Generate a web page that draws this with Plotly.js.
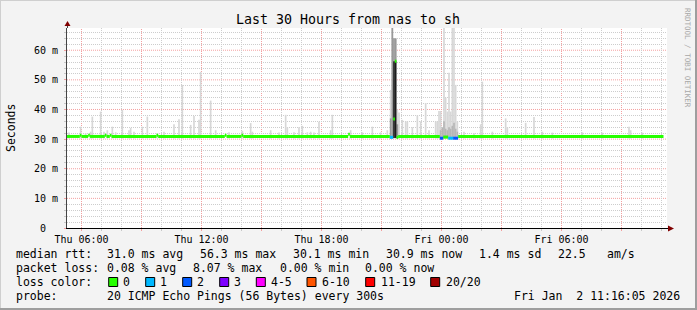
<!DOCTYPE html>
<html><head><meta charset="utf-8">
<script src="https://cdn.plot.ly/plotly-3.0.1.min.js"></script>
<style>html,body{margin:0;padding:0;background:#f3f3f3;}#chart{width:697px;height:310px;}</style>
</head><body><div id="chart"></div>
<script>
// ---------------- data ----------------
const xRange = ["2026-01-01 05:16:30", "2026-01-02 11:16:30"];
const xTickVals = ["2026-01-01 06:00","2026-01-01 09:00","2026-01-01 12:00","2026-01-01 15:00","2026-01-01 18:00","2026-01-01 21:00","2026-01-02 00:00","2026-01-02 03:00","2026-01-02 06:00","2026-01-02 09:00"];
const xTickText = ["Thu 06:00","","Thu 12:00","","Thu 18:00","","Fri 00:00","","Fri 06:00",""];
const yTickVals = [0,10,20,30,40,50,60];
const yTickText = ["0\u00a0\u00a0","10 m","20 m","30 m","40 m","50 m","60 m"];
const yMax = 67.5;

// light smoke: slot start time and top (ms)
const smokeTimes = [
 "2026-01-01 05:20","2026-01-01 05:55","2026-01-01 06:10","2026-01-01 06:25","2026-01-01 06:30","2026-01-01 06:55",
 "2026-01-01 07:05","2026-01-01 07:15","2026-01-01 07:30","2026-01-01 07:40","2026-01-01 08:00","2026-01-01 08:20",
 "2026-01-01 08:25","2026-01-01 08:35","2026-01-01 09:00","2026-01-01 09:15","2026-01-01 09:45","2026-01-01 10:05",
 "2026-01-01 10:35","2026-01-01 10:50","2026-01-01 11:00","2026-01-01 11:25","2026-01-01 11:35","2026-01-01 11:50",
 "2026-01-01 11:55","2026-01-01 12:25","2026-01-01 12:40","2026-01-01 13:20","2026-01-01 14:00","2026-01-01 14:25",
 "2026-01-01 14:30","2026-01-01 15:25","2026-01-01 15:50","2026-01-01 16:10","2026-01-01 16:15","2026-01-01 16:35",
 "2026-01-01 16:50","2026-01-01 17:00","2026-01-01 17:15","2026-01-01 17:25","2026-01-01 17:35","2026-01-01 17:50",
 "2026-01-01 18:25","2026-01-01 18:30","2026-01-01 19:25","2026-01-01 20:00","2026-01-01 20:30","2026-01-01 20:55",
 "2026-01-01 21:15","2026-01-01 21:25","2026-01-01 21:30","2026-01-01 21:35","2026-01-01 21:40","2026-01-01 21:45",
 "2026-01-01 21:50","2026-01-01 22:00","2026-01-01 22:10","2026-01-01 22:15","2026-01-01 22:30","2026-01-01 22:45",
 "2026-01-01 22:55","2026-01-01 23:10","2026-01-01 23:20","2026-01-01 23:40","2026-01-01 23:45","2026-01-01 23:50",
 "2026-01-01 23:55","2026-01-02 00:05","2026-01-02 00:10","2026-01-02 00:15","2026-01-02 00:20","2026-01-02 00:25",
 "2026-01-02 00:30","2026-01-02 00:35","2026-01-02 00:40","2026-01-02 00:45","2026-01-02 01:05","2026-01-02 01:35",
 "2026-01-02 01:55","2026-01-02 02:00","2026-01-02 02:30","2026-01-02 03:10","2026-01-02 03:15","2026-01-02 04:10",
 "2026-01-02 04:35","2026-01-02 05:00","2026-01-02 05:30","2026-01-02 07:00","2026-01-02 08:00","2026-01-02 09:20",
 "2026-01-02 09:25","2026-01-02 10:00"];
const smokeTops = [
 32.2,34.2,32.0,32.5,37.6,39.3,
 32.5,33.0,34.2,32.3,39.9,33.0,
 33.8,32.5,34.2,37.6,32.0,32.5,
 35.0,36.7,48.3,34.8,37.8,36.5,
 52.7,43.0,33.0,32.3,32.8,35.4,
 32.5,33.0,32.2,38.2,34.0,32.3,
 34.0,34.5,32.3,32.5,32.2,35.9,
 33.0,38.2,33.0,32.3,34.2,32.3,
 33.0,46.6,67.5,64.0,64.0,40.0,
 39.0,36.5,36.0,36.0,34.0,38.0,
 36.0,42.2,33.0,36.0,36.0,39.5,
 39.5,67.6,44.0,39.3,52.4,39.3,
 67.6,67.6,48.3,36.0,32.5,32.0,
 35.0,49.4,32.5,37.0,34.0,35.5,
 37.5,32.5,32.2,32.3,32.2,34.2,
 33.0,32.2];
const smokeMin = 30.2;

// light-medium haze around the midnight loss period
const hazeTimes = ["2026-01-01 23:55","2026-01-02 00:00","2026-01-02 00:05","2026-01-02 00:10","2026-01-02 00:15","2026-01-02 00:20",
 "2026-01-02 00:25","2026-01-02 00:30","2026-01-02 00:35","2026-01-02 00:40","2026-01-02 00:45"];
const hazeLows  = [30.2,30.2,30.2,30.2,30.2,30.2,30.2,30.2,30.2,30.2,30.2];
const hazeHighs = [33.0,34.0,36.0,33.5,33.0,34.0,33.5,34.5,35.5,33.5,32.5];

// medium smoke layer around the evening spike
const midTimes = ["2026-01-01 21:25","2026-01-01 21:30","2026-01-01 21:35","2026-01-01 21:40","2026-01-01 21:45"];
const midLows  = [30.3,30.3,56.3,56.3,30.2];
const midHighs = [37.0,67.5,64.0,64.0,35.0];

// dark smoke core
const coreTimes = ["2026-01-01 21:35","2026-01-01 21:40"];
const coreLows  = [30.4,30.4];
const coreHighs = [56.3,56.3];

// median rtt: segment start, value (ms), loss class index
const medTimes = ["2026-01-01 05:15","2026-01-01 05:55","2026-01-01 06:00","2026-01-01 06:20","2026-01-01 06:25",
 "2026-01-01 07:10","2026-01-01 07:15","2026-01-01 07:25","2026-01-01 07:30","2026-01-01 09:45","2026-01-01 09:50",
 "2026-01-01 13:10","2026-01-01 13:15","2026-01-01 14:00","2026-01-01 14:05","2026-01-01 19:20","2026-01-01 19:25",
 "2026-01-01 21:25","2026-01-01 21:35","2026-01-01 21:40","2026-01-01 21:45","2026-01-01 21:50",
 "2026-01-01 23:55","2026-01-02 00:05","2026-01-02 00:20","2026-01-02 00:35","2026-01-02 00:50"];
const medVals = [30.9,31.3,30.9,31.3,30.9, 31.3,30.9,31.3,30.9,31.3,30.9, 31.3,30.9,31.3,30.9,31.6,30.9,
 30.6,36.8,56.3,30.6,30.9, 30.3,30.7,30.3,30.3,30.9];
const medLoss = [0,0,0,0,0, 0,0,0,0,0,0, 0,0,0,0,0,0, 1,0,0,0,0, 2,0,1,2,0];
const medEnd = "2026-01-02 11:06";

const lossLabels = ["0","1","2","3","4-5","6-10","11-19","20/20"];
const lossColors = ["#26ff00","#00b8ff","#0059ff","#7e00ff","#ff00ff","#ff5500","#ff0000","#a10000"];

const rttLabel = "median rtt:";
const rttItems = ["31.0 ms avg","56.3 ms max","30.1 ms min","30.9 ms now","1.4 ms sd","22.5","am/s"];
const lossLabel = "packet loss:";
const lossItems = ["0.08 % avg","8.07 % max","0.00 % min","0.00 % now"];
const colorLabel = "loss color:";
const probeLabel = "probe:";
const probeText = "20 ICMP Echo Pings (56 Bytes) every 300s";
const stampText = "Fri Jan  2 11:16:05 2026";
const titleText = "Last 30 Hours from nas to sh";
const yTitle = "Seconds";
const watermark = "RRDTOOL / TOBI OETIKER";

// ---------------- layout helpers ----------------
const L = 67, T = 28, W = 600, H = 200;
const px = x => (x - L) / W;
const py = y => (T + H - y) / H;
const MONO = "DejaVu Sans Mono";
const SLOT = 300000;
const HOUR = 3600000;
const RED = "#f4a0a0", GRAY = "#cdcdcd", DOTS = "1px,1px";

// fine grid positions (hourly / every 2 ms) that skip the red major grid
const xFineVals = [];
const x0ms = new Date("2026-01-01T05:00:00Z").getTime();
for (let h = 0; h <= 31; h++) { if ((h + 5) % 3 !== 0) xFineVals.push(new Date(x0ms + h*HOUR).toISOString().slice(0,16).replace("T"," ")); }
const yFineVals = [];
for (let v = 2; v < yMax; v += 2) { if (v % 10 !== 0) yFineVals.push(v); }

const traces = [];
function barLayer(times, lows, highs, color) {
  traces.push({type:"bar", x:times, base:lows, y:highs.map((h,i)=>h-lows[i]),
    width:SLOT, offset:0, marker:{color:color, line:{width:0}}, hoverinfo:"skip"});
}
barLayer(smokeTimes, smokeTimes.map(()=>smokeMin), smokeTops, "#d7d7d7");
barLayer(hazeTimes, hazeLows, hazeHighs, "#b6b6b6");
barLayer(midTimes, midLows, midHighs, "#999999");
barLayer(coreTimes, coreLows, coreHighs, "#1c1c1c");

lossColors.forEach((c, k) => {
  const xs = [], ys = [];
  medTimes.forEach((t, i) => {
    if (medLoss[i] !== k) return;
    const e = i + 1 < medTimes.length ? medTimes[i+1] : medEnd;
    xs.push(t, e, null); ys.push(medVals[i], medVals[i], null);
  });
  if (xs.length) traces.push({type:"scatter", mode:"lines", x:xs, y:ys,
    line:{color:c, width:3}, connectgaps:false, hoverinfo:"skip"});
});
// empty trace that anchors the fine-grid axes
traces.push({type:"scatter", mode:"lines", x:[], y:[], xaxis:"x2", yaxis:"y2", hoverinfo:"skip"});

const ann = [];
function txt(x, y, s, opts) {
  ann.push(Object.assign({xref:"paper", yref:"paper", x:px(x), y:py(y), text:s, showarrow:false,
    xanchor:"left", yanchor:"middle", borderpad:0, borderwidth:0,
    font:{family:MONO, size:11.5, color:"#000"}}, opts || {}));
}
const rows = [254.3, 268.3, 282.3, 296.3];
txt(16, rows[0], rttLabel);
[107, 200, 293.3, 386, 479, 558, 607].forEach((x,i)=>txt(x, rows[0], rttItems[i]));
txt(16, rows[1], lossLabel);
[107, 193.3, 280, 365].forEach((x,i)=>txt(x, rows[1], lossItems[i]));
txt(16, rows[2], colorLabel);
const boxX = [108.7,145.7,182.7,219.7,256.3,307,365.7,430.7];
const labX = [123.3,160.3,197.3,234.3,270.7,321.7,380.7,445.7];
const shapes = [];
lossLabels.forEach((lab,i)=>{
  txt(labX[i], rows[2], lab);
  shapes.push({type:"rect", xref:"paper", yref:"paper", x0:px(boxX[i]), x1:px(boxX[i]+9),
    y0:py(277.5), y1:py(286.5), fillcolor:lossColors[i], line:{color:"#000", width:1}});
});
txt(16, rows[3], probeLabel);
txt(107, rows[3], probeText);
txt(680, rows[3], stampText, {xanchor:"right"});
txt(11, 128, yTitle, {xanchor:"center", textangle:-90});
txt(688, 58, watermark, {xanchor:"center", textangle:90, font:{family:MONO, size:7.5, color:"#a8a8a8"}});

// red major grid (below the data), one line per labelled tick position
xTickVals.forEach(t => shapes.push({type:"line", layer:"below", xref:"x", yref:"paper", x0:t, x1:t, y0:0, y1:1,
  line:{color:RED, width:1, dash:DOTS}}));
yTickVals.filter(v => v > 0).forEach(v => shapes.push({type:"line", layer:"below", xref:"paper", yref:"y", x0:0, x1:1, y0:v, y1:v,
  line:{color:RED, width:1, dash:DOTS}}));

// frame and axis arrows
shapes.push({type:"line", xref:"paper", yref:"paper", x0:px(0), x1:px(697), y0:py(0.5), y1:py(0.5), line:{color:"#cfcfcf", width:1}});
shapes.push({type:"line", xref:"paper", yref:"paper", x0:px(0.5), x1:px(0.5), y0:py(0), y1:py(310), line:{color:"#cfcfcf", width:1}});
shapes.push({type:"rect", xref:"paper", yref:"paper", x0:px(695), x1:px(697), y0:py(0), y1:py(310), fillcolor:"#9e9e9e", line:{width:0}});
shapes.push({type:"rect", xref:"paper", yref:"paper", x0:px(0), x1:px(697), y0:py(308), y1:py(310), fillcolor:"#9e9e9e", line:{width:0}});
shapes.push({type:"line", xref:"paper", yref:"paper", x0:px(667), x1:px(670), y0:py(228.5), y1:py(228.5), line:{color:"#000", width:1}});
shapes.push({type:"line", xref:"paper", yref:"paper", x0:px(67.5), x1:px(67.5), y0:py(28), y1:py(25), line:{color:"#444", width:1}});
shapes.push({type:"path", xref:"paper", yref:"paper", fillcolor:"#800000", line:{width:0},
  path:`M${px(668)},${py(225.5)} L${px(674)},${py(228.5)} L${px(668)},${py(231.5)} Z`});
shapes.push({type:"path", xref:"paper", yref:"paper", fillcolor:"#800000", line:{width:0},
  path:`M${px(64.5)},${py(26)} L${px(67.5)},${py(21)} L${px(70.5)},${py(26)} Z`});

const tf = {family:MONO, size:10, color:"#000"};
const layout = {
  width:697, height:310,
  margin:{l:L, r:697-L-W, t:T, b:310-T-H, pad:0},
  paper_bgcolor:"#f3f3f3", plot_bgcolor:"#ffffff",
  showlegend:false, barmode:"overlay", hovermode:false,
  title:{text:titleText, font:{family:MONO, size:13.3, color:"#000"},
    xref:"container", yref:"container", x:348/697, xanchor:"center", y:1-19.5/310, yanchor:"middle"},
  xaxis:{type:"date", range:xRange, tickmode:"array", tickvals:xTickVals, ticktext:xTickText,
    showgrid:false, ticks:"outside", ticklen:2, tickcolor:RED, tickwidth:1,
    tickfont:tf, tickangle:0,
    showline:true, linecolor:"#000", linewidth:1, zeroline:false, fixedrange:true},
  yaxis:{range:[0,yMax], tickmode:"array", tickvals:yTickVals, ticktext:yTickText,
    showgrid:false, ticks:"outside", ticklen:2, tickcolor:RED, ticklabelstandoff:4,
    tickfont:tf,
    showline:true, linecolor:"#444", linewidth:1, zeroline:false, fixedrange:true},
  xaxis2:{type:"date", range:xRange, overlaying:"x", anchor:"y2", side:"bottom", tickmode:"array", tickvals:xFineVals,
    showticklabels:false, showgrid:true, gridcolor:GRAY, griddash:DOTS, gridwidth:1,
    ticks:"outside", ticklen:2, tickcolor:"#c8c8c8", showline:false, zeroline:false, fixedrange:true},
  yaxis2:{range:[0,yMax], overlaying:"y", anchor:"x2", side:"left", tickmode:"array", tickvals:yFineVals,
    showticklabels:false, showgrid:true, gridcolor:GRAY, griddash:DOTS, gridwidth:1,
    ticks:"outside", ticklen:2, tickcolor:"#c8c8c8", showline:false, zeroline:false, fixedrange:true},
  shapes:shapes, annotations:ann
};
Plotly.newPlot("chart", traces, layout, {displayModeBar:false, staticPlot:true});
</script></body></html>
